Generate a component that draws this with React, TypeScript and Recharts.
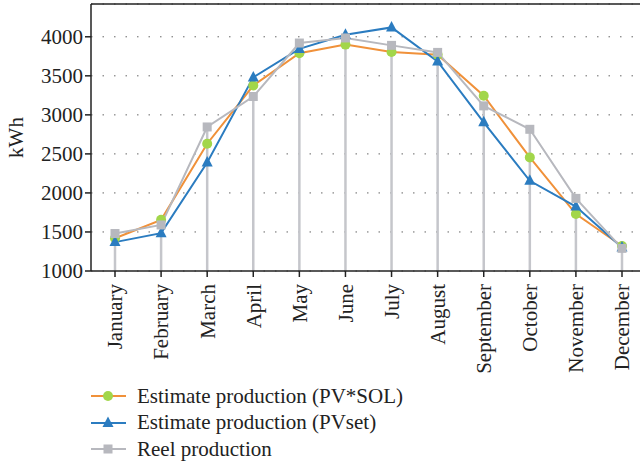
import React from 'react';
import { LineChart, Line, XAxis, YAxis, CartesianGrid, ReferenceLine } from 'recharts';

const months = ['January', 'February', 'March', 'April', 'May', 'June', 'July', 'August', 'September', 'October', 'November', 'December'];
const pvsol = [1420, 1655, 2630, 3375, 3790, 3900, 3805, 3770, 3245, 2455, 1730, 1320];
const pvset = [1370, 1485, 2390, 3480, 3845, 4025, 4120, 3685, 2905, 2155, 1825, 1300];
const reel = [1480, 1590, 2845, 3235, 3920, 3985, 3890, 3800, 3115, 2815, 1930, 1290];
const yTicks = [1000, 1500, 2000, 2500, 3000, 3500, 4000];
const Y_MIN = 1000;
const Y_MAX = 4420;

const data = months.map((m, i) => ({ month: m, pvsol: pvsol[i], pvset: pvset[i], reel: reel[i] }));

const FONT = 'Liberation Serif, DejaVu Serif, serif';
const FS = 21;
const ORANGE = '#f0913a';
const GREEN = '#a2d64a';
const BLUE = '#2b7cc0';
const GRAY = '#b7b8be';
const DROP = '#c5c6cb';

const Circle = (p: any) => <circle key={p.index} cx={p.cx} cy={p.cy} r={5} fill={GREEN} stroke="none" />;
const Tri = (p: any) => (
  <polygon key={p.index} points={`${p.cx},${p.cy - 6.5} ${p.cx - 5.5},${p.cy + 4} ${p.cx + 5.5},${p.cy + 4}`} fill={BLUE} />
);
const Sq = (p: any) => <rect key={p.index} x={p.cx - 4.5} y={p.cy - 4.5} width={9} height={9} fill={GRAY} />;

const MonthTick = (p: any) => (
  <g transform={`translate(${p.x},${p.y})`}>
    <text x={0} y={0} dy="0.35em" textAnchor="end" transform="rotate(-90)" style={{ fontFamily: FONT, fontSize: FS }} fill="#222">
      {p.payload.value}
    </text>
  </g>
);

const legendItems = [
  { label: 'Estimate production (PV*SOL)', color: ORANGE, marker: 'circle' },
  { label: 'Estimate production (PVset)', color: BLUE, marker: 'tri' },
  { label: 'Reel production', color: GRAY, marker: 'sq' },
];

const LegendBox = () => (
  <div style={{ position: 'absolute', left: 91, top: 383, fontFamily: FONT, fontSize: FS, color: '#222' }}>
    {legendItems.map((it) => (
      <div key={it.label} style={{ display: 'flex', alignItems: 'center', height: 26.5, whiteSpace: 'nowrap' }}>
        <svg width={46} height={14} style={{ flex: 'none' }}>
          <line x1={0} y1={7} x2={35} y2={7} stroke={it.color} strokeWidth={2} />
          {it.marker === 'circle' && <circle cx={17} cy={7} r={5} fill={GREEN} />}
          {it.marker === 'tri' && <polygon points="17,0.5 11.5,11 22.5,11" fill={BLUE} />}
          {it.marker === 'sq' && <rect x={12.5} y={2.5} width={9} height={9} fill={GRAY} />}
        </svg>
        <span style={{ lineHeight: 1 }}>{it.label}</span>
      </div>
    ))}
  </div>
);

export default function App() {
  return (
    <div style={{ position: 'absolute', left: 0, top: 0, width: 640, height: 464, background: '#fff', fontFamily: FONT }}>
      <LineChart width={640} height={464} data={data} margin={{ top: 4, right: 0, left: 0, bottom: 0 }} style={{ fontFamily: FONT }}>
        <CartesianGrid horizontal vertical={false} stroke="#666" strokeDasharray="1.5 10" />
        <XAxis
          dataKey="month"
          padding={{ left: 24, right: 18 }}
          height={193}
          tick={<MonthTick />}
          tickLine={{ stroke: '#222', strokeWidth: 1.5 }}
          axisLine={{ stroke: '#222', strokeWidth: 1.5 }}
          tickSize={6}
          tickMargin={7}
          interval={0}
        />
        <YAxis
          domain={[Y_MIN, Y_MAX]}
          ticks={yTicks}
          allowDataOverflow
          width={91}
          tickSize={6}
          tickMargin={2}
          tick={{ fontSize: FS, fill: '#222', style: { fontFamily: FONT } }}
          tickLine={{ stroke: '#222', strokeWidth: 1.5 }}
          axisLine={{ stroke: '#222', strokeWidth: 1.5 }}
          label={{ value: 'kWh', angle: -90, position: 'insideLeft', offset: 16, style: { fontFamily: FONT, fontSize: FS, fill: '#222', textAnchor: 'middle' } }}
        />
        <ReferenceLine y={Y_MAX} stroke="#222" strokeWidth={1.5} />
        {data.map((d) => (
          <ReferenceLine
            key={d.month}
            segment={[{ x: d.month, y: Y_MIN }, { x: d.month, y: d.reel }]}
            stroke={DROP}
            strokeWidth={2.5}
          />
        ))}
        <Line dataKey="pvsol" stroke={ORANGE} strokeWidth={2} dot={Circle} isAnimationActive={false} />
        <Line dataKey="pvset" stroke={BLUE} strokeWidth={2} dot={Tri} isAnimationActive={false} />
        <Line dataKey="reel" stroke={GRAY} strokeWidth={2} dot={Sq} isAnimationActive={false} />
      </LineChart>
      <LegendBox />
    </div>
  );
}
